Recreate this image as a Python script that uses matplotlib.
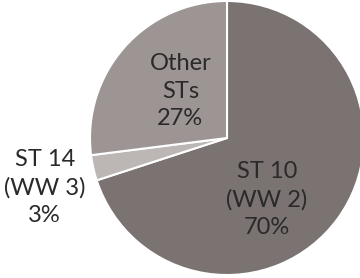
import matplotlib
matplotlib.use("Agg")
import matplotlib.pyplot as plt

labels = ["ST 10\n(WW 2)\n70%", "ST 14\n(WW 3)\n3%", "Other\nSTs\n27%"]
shares = [70, 3, 27]
colors = ["#7a7371", "#bcb6b4", "#9c9593"]

W, H = 360, 278
cx, cy, r = 227, 138, 137

fig = plt.figure(figsize=(W / 100, H / 100), dpi=100)
ax = fig.add_axes([(cx - r) / W, (H - cy - r) / H, 2 * r / W, 2 * r / H])

ax.pie(
    shares,
    colors=colors,
    startangle=90,
    counterclock=False,
    radius=1,
    wedgeprops={"edgecolor": "white", "linewidth": 1.5},
)
ax.set_xlim(-1, 1)
ax.set_ylim(-1, 1)
ax.set_aspect("equal")
ax.axis("off")

# label positions in pie radius units
label_pos = [(0.29, -0.45), (-1.33, -0.36), (-0.34, 0.34)]
for text, (x, y) in zip(labels, label_pos):
    ax.text(x, y, text, ha="center", va="center", fontsize=17,
            family=["Lato", "DejaVu Sans"], color="#2a2a2a",
            linespacing=1.38, clip_on=False)

fig.savefig("out.png", dpi=100)
